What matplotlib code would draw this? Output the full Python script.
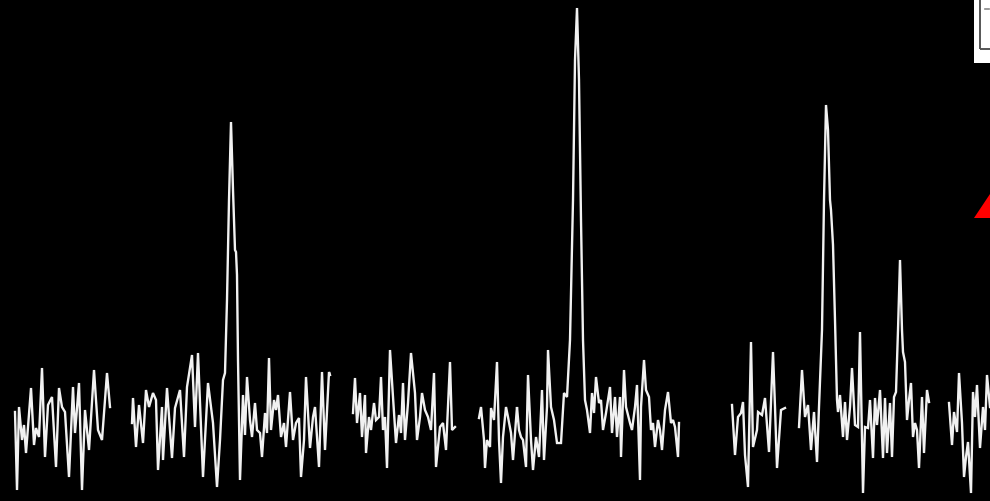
import matplotlib
matplotlib.use("Agg")
import matplotlib.pyplot as plt
from matplotlib.patches import Rectangle, Polygon

# spectrum segments: channel positions and intensities
ch1 = [15, 17, 19, 22, 24, 26, 28, 31, 34, 36, 39, 42, 45, 48, 52, 56, 59, 62, 65, 69,
       73, 75, 79, 82, 85, 89, 94, 98, 102, 107, 110]
in1 = [89, 11, 94, 61, 76, 48, 74, 113, 56, 73, 64, 133, 44, 96, 104, 34, 113, 94, 89, 24,
       114, 68, 118, 11, 91, 51, 131, 71, 61, 128, 94]

ch2 = [132, 133, 136, 139, 143, 146, 149, 153, 156, 158, 162, 163, 167, 172, 175, 180, 184, 187, 192, 195,
       198, 203, 208, 213, 217, 220, 223, 225, 227, 229, 231, 233, 235, 236, 237, 238, 240, 243, 245, 247,
       250, 252, 255, 257, 260, 262, 265, 267, 269, 271, 274, 276, 278, 281, 284, 286, 290, 293, 296, 299,
       301, 304, 306, 310, 313, 315, 319, 322, 325, 329, 330]
in2 = [78, 103, 54, 96, 58, 111, 94, 108, 101, 31, 94, 41, 113, 43, 93, 111, 44, 114, 146, 74,
       148, 24, 118, 78, 14, 61, 121, 128, 201, 301, 379, 311, 251, 249, 226, 141, 21, 106, 66, 124,
       81, 64, 98, 71, 68, 44, 88, 68, 143, 71, 101, 91, 106, 64, 78, 54, 109, 61, 78, 83,
       24, 61, 124, 53, 84, 94, 34, 129, 51, 129, 126]

ch3 = [353, 355, 357, 360, 362, 365, 366, 369, 371, 374, 376, 379, 381, 383, 385, 387, 390, 393, 396, 399,
       401, 403, 405, 408, 411, 415, 417, 420, 422, 425, 428, 431, 434, 436, 440, 443, 446, 450, 452, 455]
in3 = [88, 123, 78, 108, 64, 106, 48, 84, 71, 98, 81, 84, 124, 71, 84, 33, 151, 104, 58, 86,
       68, 118, 61, 98, 148, 108, 61, 84, 108, 91, 84, 71, 128, 34, 74, 78, 51, 139, 71, 74]

ch4 = [479, 481, 484, 485, 487, 490, 491, 494, 497, 499, 501, 503, 506, 508, 511, 513, 516, 517, 519, 521,
       523, 526, 528, 531, 533, 536, 539, 542, 544, 547, 548, 551, 554, 557, 561, 564, 567, 570, 573, 575,
       577, 579, 581, 583, 585, 587, 590, 592, 594, 596, 599, 601, 603, 606, 610, 612, 615, 617, 620, 621,
       624, 626, 630, 632, 635, 637, 640, 641, 644, 646, 649, 651, 653, 655, 658, 660, 662, 665, 668, 671,
       673, 675, 678, 679]
in4 = [83, 94, 61, 33, 61, 54, 93, 81, 139, 61, 18, 64, 94, 84, 68, 41, 81, 94, 71, 64,
       61, 34, 126, 61, 31, 64, 44, 111, 41, 94, 151, 94, 81, 58, 58, 108, 104, 161, 301, 441,
       493, 421, 281, 161, 101, 91, 68, 108, 88, 124, 98, 101, 71, 88, 114, 68, 104, 64, 104, 44,
       131, 94, 78, 71, 94, 116, 21, 94, 141, 111, 104, 71, 78, 54, 81, 71, 51, 91, 109, 78,
       81, 74, 44, 78]

ch5 = [732, 735, 738, 741, 743, 745, 748, 751, 753, 757, 758, 762, 765, 767, 769, 773, 775, 777, 781, 785]
in5 = [96, 46, 84, 88, 99, 46, 14, 159, 54, 71, 89, 86, 103, 76, 49, 149, 94, 33, 91, 93]

ch6 = [799, 802, 805, 808, 811, 814, 817, 819, 822, 824, 826, 828, 830, 831, 833, 835, 837, 838, 840, 843,
       845, 847, 850, 852, 855, 858, 860, 863, 865, 868, 870, 873, 875, 877, 880, 883, 885, 887, 890, 892,
       894, 896, 898, 900, 902, 903, 905, 907, 909, 911, 913, 915, 917, 919, 922, 924, 927, 929]
in6 = [74, 131, 84, 96, 51, 89, 39, 94, 171, 301, 396, 371, 301, 291, 256, 181, 101, 89, 106, 64,
       99, 61, 94, 133, 76, 74, 169, 8, 74, 73, 101, 43, 103, 76, 111, 43, 103, 48, 98, 44,
       104, 109, 171, 241, 171, 149, 139, 81, 101, 118, 64, 78, 71, 33, 104, 48, 111, 99]

ch7 = [949, 952, 954, 957, 959, 962, 964, 966, 968, 971, 973, 975, 977, 980, 983, 985, 987, 990]
in7 = [98, 56, 89, 69, 128, 78, 24, 44, 59, 8, 109, 84, 116, 53, 94, 71, 126, 94]

segments = [(ch1, in1), (ch2, in2), (ch3, in3), (ch4, in4), (ch5, in5), (ch6, in6), (ch7, in7)]

fig = plt.figure(figsize=(9.9, 5.01), dpi=100, facecolor="black")
ax = fig.add_axes([0, 0, 1, 1])
ax.set_facecolor("black")
ax.set_xlim(0, 990)
ax.set_ylim(0, 501)
ax.axis("off")

for ch, inten in segments:
    ax.plot(ch, inten, color="white", linewidth=1.7, solid_joinstyle="miter", alpha=0.95)

# corner of the legend box
ax.add_patch(Rectangle((974, 438), 30, 70, facecolor="white", edgecolor="none", clip_on=False))
ax.add_patch(Rectangle((980, 452), 30, 60, facecolor="none", edgecolor="#555555", linewidth=1.4))
ax.plot([985, 989], [492, 492], color="#888888", linewidth=1.2)

# red marker at the right edge
ax.add_patch(Polygon([(974, 283), (992, 310), (992, 283)], closed=True, facecolor="red", edgecolor="none"))

fig.savefig("out.png", dpi=100, facecolor="black")
